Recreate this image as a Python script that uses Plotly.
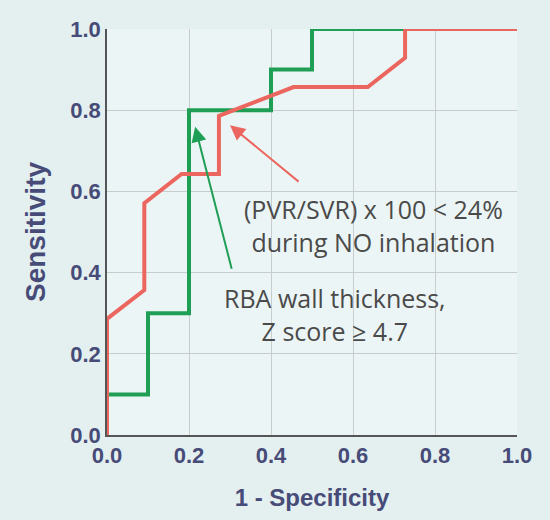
import plotly.graph_objects as go

# ROC curve data (1 - specificity, sensitivity)
green_x = [0.0, 0.0, 0.1, 0.1, 0.2, 0.2, 0.4, 0.4, 0.5, 0.5, 1.0]
green_y = [0.0, 0.1, 0.1, 0.3, 0.3, 0.8, 0.8, 0.9, 0.9, 1.0, 1.0]

red_x = [0.0, 0.0, 0.091, 0.091, 0.182, 0.273, 0.273, 0.455, 0.636, 0.727, 0.727, 1.0]
red_y = [0.0, 0.286, 0.357, 0.571, 0.643, 0.643, 0.786, 0.857, 0.857, 0.929, 1.0, 1.0]

tick_vals = [0.0, 0.2, 0.4, 0.6, 0.8, 1.0]
tick_text = ["0.0", "0.2", "0.4", "0.6", "0.8", "1.0"]

label_red = "(PVR/SVR) x 100 < 24%<br>during NO inhalation"
label_green = "RBA wall thickness,<br>Z score ≥ 4.7"

GREEN = "#1f9e55"
RED = "#ec6660"
AXIS_COL = "#474b78"

fig = go.Figure()
fig.add_trace(go.Scatter(x=green_x, y=green_y, mode="lines",
                         line=dict(color=GREEN, width=4), showlegend=False))
fig.add_trace(go.Scatter(x=red_x, y=red_y, mode="lines",
                         line=dict(color=RED, width=4), showlegend=False))

# arrows
fig.add_annotation(x=0.30, y=0.763, ax=0.471, ay=0.621, xref="x", yref="y",
                   axref="x", ayref="y", showarrow=True, arrowhead=2,
                   arrowsize=1.5, arrowwidth=2, arrowcolor=RED, text="")
fig.add_annotation(x=0.215, y=0.759, ax=0.305, ay=0.406, xref="x", yref="y",
                   axref="x", ayref="y", showarrow=True, arrowhead=2,
                   arrowsize=1.5, arrowwidth=2, arrowcolor=GREEN, text="")

fig.add_annotation(x=0.65, y=0.515, xref="x", yref="y", text=label_red,
                   showarrow=False, align="center",
                   font=dict(family="Open Sans", size=25, color="#4a4a4a"))
fig.add_annotation(x=0.555, y=0.297, xref="x", yref="y", text=label_green,
                   showarrow=False, align="center",
                   font=dict(family="Open Sans", size=25, color="#4a4a4a"))

fig.update_layout(
    width=550, height=520,
    margin=dict(l=107, r=33, t=29, b=85),
    paper_bgcolor="#e4eff0",
    plot_bgcolor="#ecf5f5",
    font=dict(family="Liberation Sans, Arial", color=AXIS_COL),
)
bold_ticks = ["<b>%s</b>" % t for t in tick_text]
fig.update_xaxes(range=[0, 1.0], tickvals=tick_vals, ticktext=bold_ticks,
                 showgrid=True, gridcolor="#c8cccc", gridwidth=1,
                 showline=True, linecolor="#555555", linewidth=1.5,
                 zeroline=False, ticks="",
                 tickfont=dict(size=22, color=AXIS_COL, family="Liberation Sans, Arial"),
                 title=dict(text="<b>1 - Specificity</b>",
                            font=dict(size=24, color=AXIS_COL), standoff=22))
fig.update_yaxes(range=[0, 1.0], tickvals=tick_vals, ticktext=bold_ticks,
                 showgrid=True, gridcolor="#c8cccc", gridwidth=1,
                 showline=True, linecolor="#555555", linewidth=1.5,
                 zeroline=False, ticks="",
                 tickfont=dict(size=22, color=AXIS_COL, family="Liberation Sans, Arial"),
                 title=dict(text="<b>Sensitivity</b>",
                            font=dict(size=28, color=AXIS_COL), standoff=16))

fig.write_html("out.html")
